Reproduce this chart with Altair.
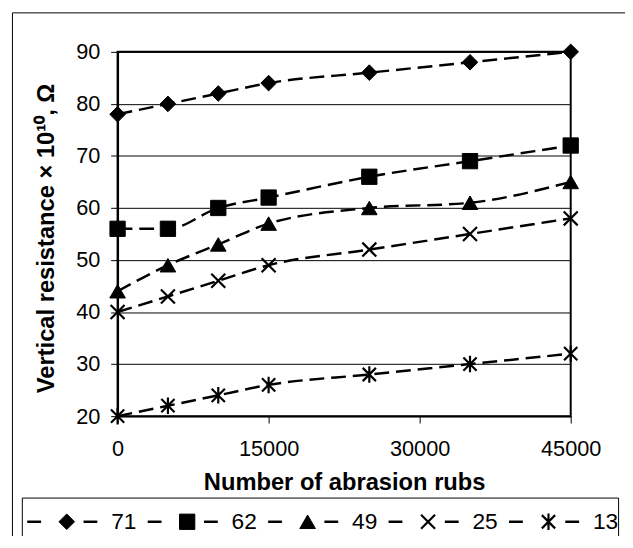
import altair as alt
import pandas as pd

# ---- data ----
rubs = [0, 5000, 10000, 15000, 25000, 35000, 45000]
series_names = ["71", "62", "49", "25", "13"]
s71 = [78, 80, 82, 84, 86, 88, 90]
s62 = [56, 56, 60, 62, 66, 69, 72]
s49 = [44, 49, 53, 57, 60, 61, 65]
s25 = [40, 43, 46, 49, 52, 55, 58]
s13 = [20, 22, 24, 26, 28, 30, 32]
x_ticks = [0, 15000, 30000, 45000]
y_ticks = [20, 30, 40, 50, 60, 70, 80, 90]

rows = []
for name, vals in zip(series_names, [s71, s62, s49, s25, s13]):
    for r, v in zip(rubs, vals):
        rows.append({"series": name, "rubs": r, "value": v})
df = pd.DataFrame(rows)
one = pd.DataFrame({"k": [0]})

FONT = "Liberation Sans"
W, H = 459, 369

XPATH = "M-1,-1L1,1M-1,1L1,-1"
STARPATH = "M-1,-1L1,1M-1,1L1,-1M0,-1.25L0,1.25"
marker_style = {
    "71": dict(shape="diamond", size=250, filled=True),
    "62": dict(shape="square", size=240, filled=True),
    "49": dict(shape="triangle-up", size=250, filled=True),
    "25": dict(shape=XPATH, size=200, filled=False),
    "13": dict(shape=STARPATH, size=180, filled=False),
}

x_enc = alt.X(
    "rubs:Q",
    scale=alt.Scale(domain=[0, 45000], nice=False, zero=False),
    axis=alt.Axis(
        values=x_ticks, format="d", title="Number of abrasion rubs", grid=False,
        labelFontSize=22, labelPadding=16, tickSize=7, tickColor="black",
        domainColor="black", domainWidth=2, labelColor="black",
        titleFontSize=24, titleFontWeight="bold", titleColor="black",
        titleY=55, titleBaseline="top", labelFlush=False, labelOverlap=False,
    ),
)
y_enc = alt.Y(
    "value:Q",
    scale=alt.Scale(domain=[20, 90], nice=False, zero=False),
    axis=alt.Axis(
        values=y_ticks, format="d", title="Vertical resistance × 10¹⁰, Ω", grid=True,
        gridColor="black", gridWidth=1, gridOpacity=1,
        labelFontSize=22, labelPadding=11, tickSize=7, tickColor="black",
        domainColor="black", domainWidth=2, labelColor="black",
        titleFontSize=24, titleFontWeight="bold", titleColor="black",
        titleX=-60, titleY=H / 2 + 4, titleAngle=270, titleAlign="center",
        titleBaseline="bottom", labelFlush=False, labelOverlap=False,
    ),
)

layers = []

# outer frame and legend box (decoration)
layers.append(
    alt.Chart(one).mark_rect(fillOpacity=0, stroke="black", strokeWidth=1).encode(
        x=alt.value(-106.5), x2=alt.value(540), y=alt.value(-39.5), y2=alt.value(560)
    )
)
layers.append(
    alt.Chart(one).mark_rect(fillOpacity=0, stroke="black", strokeWidth=1).encode(
        x=alt.value(-96.5), x2=alt.value(507.5), y=alt.value(452), y2=alt.value(560)
    )
)

lines = alt.Chart(df).mark_line(
    color="black", strokeWidth=2.5, strokeDash=[15, 7], interpolate="monotone"
).encode(x=x_enc, y=y_enc, detail="series:N")
layers.append(lines)

for name in series_names:
    st = marker_style[name]
    if st["filled"]:
        mk = dict(filled=True, fill="black", stroke="black", strokeWidth=1, opacity=1)
    else:
        mk = dict(filled=False, stroke="black", strokeWidth=2.2, opacity=1)
    pts = alt.Chart(df).transform_filter(
        alt.datum.series == name
    ).mark_point(shape=st["shape"], size=st["size"], **mk).encode(
        x=alt.X("rubs:Q"), y=alt.Y("value:Q")
    )
    layers.append(pts)

# manual legend
LY = 476
for i, name in enumerate(series_names):
    st = marker_style[name]
    cx = -51.5 + 122 * i
    for a, b in [(cx - 40, cx - 26), (cx + 17, cx + 31)]:
        layers.append(
            alt.Chart(one).mark_rule(color="black", strokeWidth=2.5).encode(
                x=alt.value(a), x2=alt.value(b), y=alt.value(LY)
            )
        )
    if st["filled"]:
        mk = dict(filled=True, fill="black", stroke="black", strokeWidth=1, opacity=1)
    else:
        mk = dict(filled=False, stroke="black", strokeWidth=2.2, opacity=1)
    layers.append(
        alt.Chart(one).mark_point(shape=st["shape"], size=st["size"], **mk).encode(
            x=alt.value(cx), y=alt.value(LY)
        )
    )
    layers.append(
        alt.Chart(one).mark_text(
            text=name, font=FONT, fontSize=23, color="black", align="left", baseline="middle"
        ).encode(x=alt.value(cx + 45), y=alt.value(LY))
    )

chart = alt.layer(*layers).properties(
    width=W, height=H,
    padding={"left": 111, "top": 41, "right": 55, "bottom": 118},
    autosize=alt.AutoSizeParams(type="none"),
).configure(
    font=FONT,
    background="white",
).configure_view(
    stroke="black", strokeWidth=2
).configure_axis(
    labelFont=FONT, titleFont=FONT
)

chart.save("out.html", embed_options={"renderer": "svg", "actions": False})
